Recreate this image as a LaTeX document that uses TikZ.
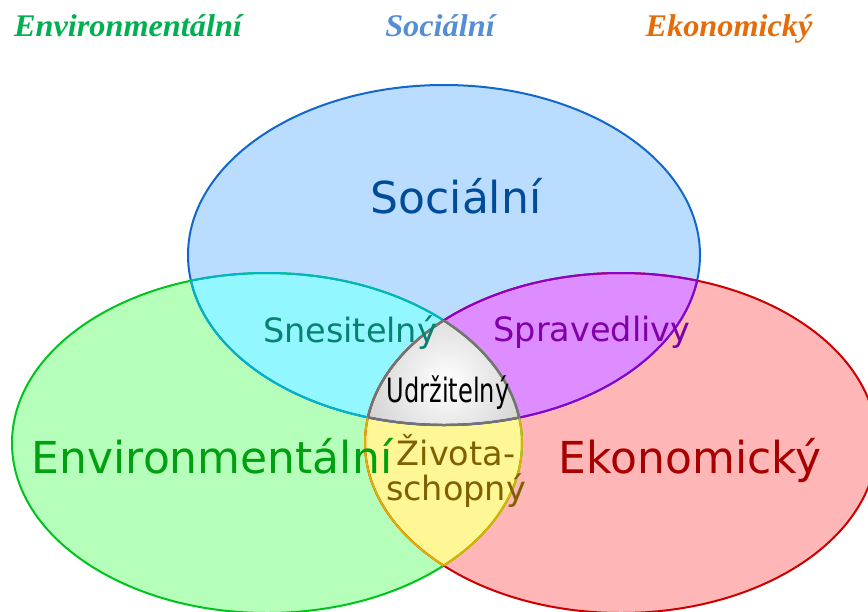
\documentclass[tikz,border=0pt]{standalone}
\usepackage{fontspec}
\usepackage{graphicx}
\setmainfont{DejaVu Sans}
\newfontfamily\titlefont{Liberation Serif}
\usetikzlibrary{calc}

% fills and strokes of the three sets and their overlaps
\definecolor{bFill}{HTML}{B9DCFF}
\definecolor{bLine}{HTML}{1267CC}
\definecolor{gFill}{HTML}{B6FFBA}
\definecolor{gLine}{HTML}{00C41E}
\definecolor{rFill}{HTML}{FFB6B6}
\definecolor{rLine}{HTML}{CC0000}
\definecolor{bgFill}{HTML}{93F7FF}
\definecolor{bgLine}{HTML}{00B4C8}
\definecolor{brFill}{HTML}{DD8DFF}
\definecolor{brLine}{HTML}{8E00C8}
\definecolor{grFill}{HTML}{FFF796}
\definecolor{grLine}{HTML}{E0B000}
\definecolor{midLine}{HTML}{737373}
\definecolor{midOuter}{HTML}{A6A6A6}
% label colours
\definecolor{bText}{HTML}{004C99}
\definecolor{gText}{HTML}{00A010}
\definecolor{rText}{HTML}{A80000}
\definecolor{bgText}{HTML}{088270}
\definecolor{brText}{HTML}{8000A8}
\definecolor{grText}{HTML}{7F6000}
\definecolor{tGreen}{HTML}{00B050}
\definecolor{tBlue}{HTML}{558ED5}
\definecolor{tOrange}{HTML}{E46C0A}

% the three ellipses
\newcommand\setB{(444,255) ellipse [x radius=256, y radius=170]}
\newcommand\setG{(267,443) ellipse [x radius=255, y radius=170]}
\newcommand\setR{(621,443) ellipse [x radius=256, y radius=170]}

\begin{document}
\begin{tikzpicture}[x=1pt,y=-1pt,
  edge/.style={line width=2pt},
  bigtext/.style={font=\fontsize{44}{50}\selectfont, anchor=base},
  midtext/.style={font=\fontsize{33.5}{40}\selectfont, anchor=base},
  title/.style={font=\titlefont\bfseries\itshape\fontsize{31.5}{36}\selectfont, anchor=base, xscale=1.025, transform shape}]
\useasboundingbox (0,0) rectangle (868,611);
\clip (0,0) rectangle (868,611);

% base fills
\fill[bFill] \setB;
\fill[gFill] \setG;
\fill[rFill] \setR;

% pairwise overlaps
\begin{scope} \clip \setB; \fill[bgFill] \setG; \end{scope}
\begin{scope} \clip \setB; \fill[brFill] \setR; \end{scope}
\begin{scope} \clip \setG; \fill[grFill] \setR; \end{scope}

% common core, shaded
\begin{scope}
  \clip \setB; \clip \setG; \clip \setR;
  \shade[inner color=white, outer color=midOuter] (446,382) circle [radius=170];
\end{scope}

% outlines of the sets
\draw[edge, bLine] \setB;
\draw[edge, gLine] \setG;
\draw[edge, rLine] \setR;

% outlines inside the overlaps
\begin{scope} \clip \setG; \draw[edge, bgLine] \setB; \end{scope}
\begin{scope} \clip \setB; \draw[edge, bgLine] \setG; \end{scope}
\begin{scope} \clip \setR; \draw[edge, brLine] \setB; \end{scope}
\begin{scope} \clip \setB; \draw[edge, brLine] \setR; \end{scope}
\begin{scope} \clip \setR; \draw[edge, grLine] \setG; \end{scope}
\begin{scope} \clip \setG; \draw[edge, grLine] \setR; \end{scope}

% outline of the core
\begin{scope} \clip \setG; \clip \setR; \draw[line width=2.4pt, midLine] \setB; \end{scope}
\begin{scope} \clip \setB; \clip \setR; \draw[line width=2.4pt, midLine] \setG; \end{scope}
\begin{scope} \clip \setB; \clip \setG; \draw[line width=2.4pt, midLine] \setR; \end{scope}

% labels
\node[bigtext, text=bText] (soc) at (456,213) {Sociální};
\node[bigtext, text=gText] (env) at (212,473) {Environmentální};
\node[bigtext, text=rText] (eko) at (690,473) {Ekonomický};
\node[midtext, text=bgText] (sne) at (350,342) {Snesitelný};
\node[midtext, text=brText] (spr) at (592,341) {Spravedlivy};
\node[midtext, text=black] (udr) at (448,402) {\scalebox{0.72}[1]{Udržitelný}};
\node[midtext, text=grText] (ziv1) at (456,465) {Života-};
\node[midtext, text=grText] (ziv2) at (456,500) {schopný};

% headings
\node[title, text=tGreen] (hEnv) at (128,36) {Environmentální};
\node[title, text=tBlue] (hSoc) at (440,36) {Sociální};
\node[title, text=tOrange] (hEko) at (729,36) {Ekonomický};
\end{tikzpicture}
\end{document}
